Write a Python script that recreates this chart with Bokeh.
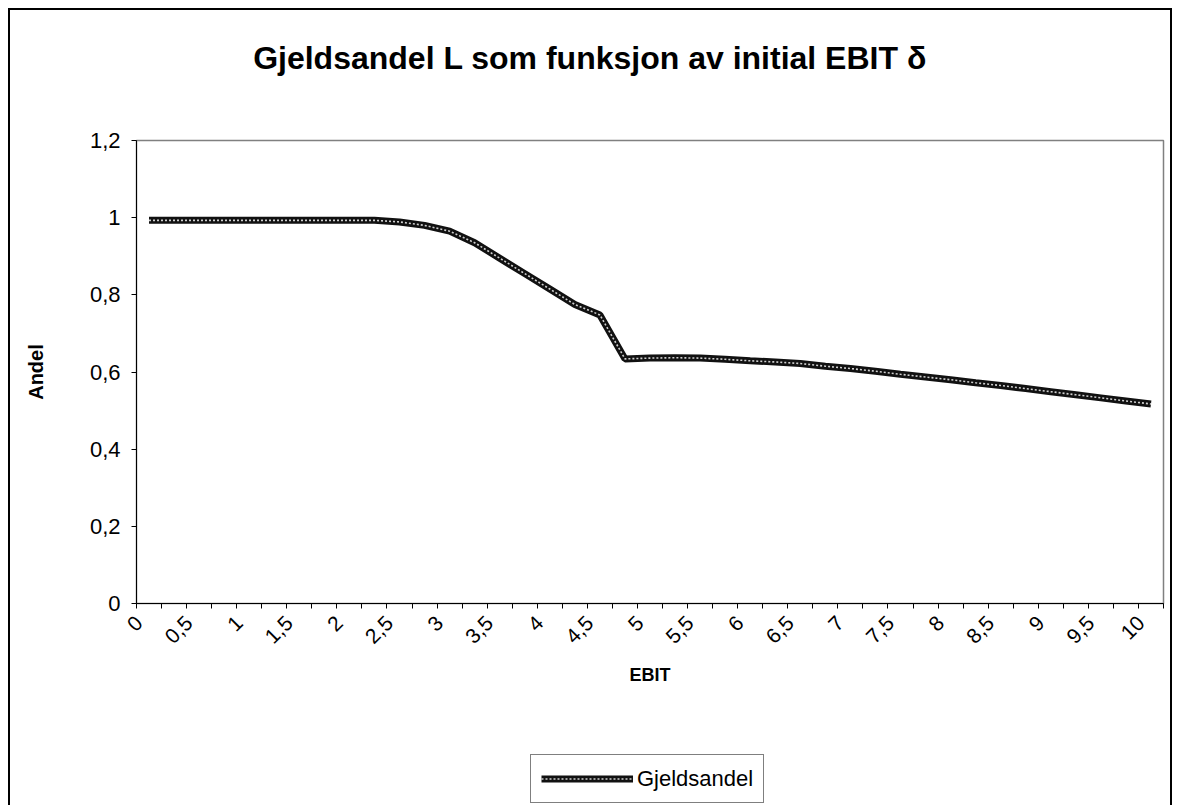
from bokeh.plotting import figure
from bokeh.layouts import column
from bokeh.models import FixedTicker, Range1d, Legend, LegendItem, ColumnDataSource
from bokeh.core.properties import value
from bokeh.embed import file_html
from bokeh.resources import INLINE
from math import pi

# EBIT categories (x) and debt share (y)
ebit = [0, 0.25, 0.5, 0.75, 1, 1.25, 1.5, 1.75, 2, 2.25,
        2.5, 2.75, 3, 3.25, 3.5, 3.75, 4, 4.25, 4.5, 4.75,
        5, 5.25, 5.5, 5.75, 6, 6.25, 6.5, 6.75, 7, 7.25,
        7.5, 7.75, 8, 8.25, 8.5, 8.75, 9, 9.25, 9.5, 9.75, 10]
gjeldsandel = [0.993, 0.993, 0.993, 0.993, 0.993, 0.993, 0.993, 0.993, 0.993, 0.993,
               0.989, 0.980, 0.965, 0.935, 0.895, 0.855, 0.815, 0.775, 0.748, 0.634,
               0.636, 0.637, 0.636, 0.633, 0.629, 0.626, 0.622, 0.615, 0.609, 0.602,
               0.594, 0.587, 0.580, 0.572, 0.565, 0.557, 0.549, 0.541, 0.533, 0.525, 0.517]

x_label_ticks = [0, 0.5, 1, 1.5, 2, 2.5, 3, 3.5, 4, 4.5, 5, 5.5, 6, 6.5, 7, 7.5, 8, 8.5, 9, 9.5, 10]
x_tick_labels = ["0", "0,5", "1", "1,5", "2", "2,5", "3", "3,5", "4", "4,5", "5",
                 "5,5", "6", "6,5", "7", "7,5", "8", "8,5", "9", "9,5", "10"]
y_ticks = [0, 0.2, 0.4, 0.6, 0.8, 1.0, 1.2]
y_tick_labels = ["0", "0,2", "0,4", "0,6", "0,8", "1", "1,2"]
title_text = "Gjeldsandel L som funksjon av initial EBIT δ"
series_name = "Gjeldsandel"

FONT = "Liberation Sans"
W = 1160
half = 0.125          # half a category width
label_shift = 0.1     # rotated labels sit a little left of their category
boundaries = [v - half for v in ebit] + [ebit[-1] + half]
label_pos = [v - label_shift for v in x_label_ticks]


def strip(height):
    f = figure(width=W, height=height, output_backend="svg", toolbar_location=None,
               x_range=Range1d(0, 1), y_range=Range1d(0, height),
               x_axis_type=None, y_axis_type=None,
               min_border_left=0, min_border_right=0, min_border_top=0, min_border_bottom=0)
    f.grid.visible = False
    f.outline_line_color = None
    f.background_fill_color = "white"
    f.border_fill_color = "white"
    return f


# ---- title strip ----
tf = strip(78)
tf.text(x=[0.5], y=[31], text=[title_text], text_align="center", text_baseline="middle",
        x_offset=-60, text_font=value(FONT), text_font_size="32px", text_font_style="bold",
        text_color="black")

# ---- main chart ----
src = ColumnDataSource(data=dict(x=ebit, y=gjeldsandel))

p = figure(width=W, height=650, output_backend="svg", toolbar_location=None,
           x_range=Range1d(ebit[0] - half, ebit[-1] + half), y_range=Range1d(0, 1.2),
           min_border_left=126, min_border_right=7, min_border_top=52, min_border_bottom=135)
p.grid.visible = False
p.outline_line_color = "#808080"
p.outline_line_width = 1.5
p.background_fill_color = "white"
p.border_fill_color = "white"

line_style = dict(line_color="#111111", line_width=7)
dots_style = dict(line_color="white", line_width=1.6, line_dash="2 2", line_alpha=0.8)
p.line("x", "y", source=src, **line_style)
p.line("x", "y", source=src, **dots_style)

xa = p.xaxis[0]
xa.ticker = FixedTicker(ticks=label_pos, minor_ticks=boundaries)
xa.major_label_overrides = {float(k): v for k, v in zip(label_pos, x_tick_labels)}
xa.major_tick_line_color = None
xa.minor_tick_in = 0
xa.minor_tick_out = 5
xa.minor_tick_line_color = "black"
xa.axis_line_color = "black"
xa.major_label_orientation = pi / 4
xa.major_label_text_font = FONT
xa.major_label_text_font_size = "21px"
xa.major_label_text_color = "black"
xa.major_label_standoff = 10
xa.axis_label = "EBIT"
xa.axis_label_text_font = FONT
xa.axis_label_text_font_size = "18px"
xa.axis_label_text_font_style = "bold"
xa.axis_label_text_color = "black"
xa.axis_label_standoff = 12

ya = p.yaxis[0]
ya.ticker = FixedTicker(ticks=y_ticks, minor_ticks=[])
ya.major_label_overrides = {float(k): v for k, v in zip(y_ticks, y_tick_labels)}
ya.major_tick_in = 0
ya.major_tick_out = 5
ya.major_tick_line_color = "black"
ya.axis_line_color = "black"
ya.major_label_text_font = FONT
ya.major_label_text_font_size = "22px"
ya.major_label_text_color = "black"
ya.major_label_standoff = 11
ya.axis_label = "Andel"
ya.axis_label_text_font = FONT
ya.axis_label_text_font_size = "20px"
ya.axis_label_text_font_style = "bold"
ya.axis_label_text_color = "black"
ya.axis_label_standoff = 40

# ---- legend strip ----
lf = strip(67)
l1 = lf.line(x=[-10, -9], y=[-10, -9], **line_style)
l2 = lf.line(x=[-10, -9], y=[-10, -9], **dots_style)
legend = Legend(items=[LegendItem(label=series_name, renderers=[l1, l2])],
                location=(394, 2), orientation="horizontal",
                label_text_font=FONT, label_text_font_size="22px", label_text_color="black",
                glyph_width=92, glyph_height=27, padding=10, spacing=0,
                label_standoff=4, border_line_color="black", border_line_width=1,
                background_fill_color="white", background_fill_alpha=1.0, margin=0)
lf.add_layout(legend, "center")

layout = column(tf, p, lf, spacing=0)
layout.margin = (10, 0, 0, 10)
layout.styles = {"outline": "2px solid black", "outline-offset": "0px"}

open("out.html", "w").write(file_html(layout, INLINE))
